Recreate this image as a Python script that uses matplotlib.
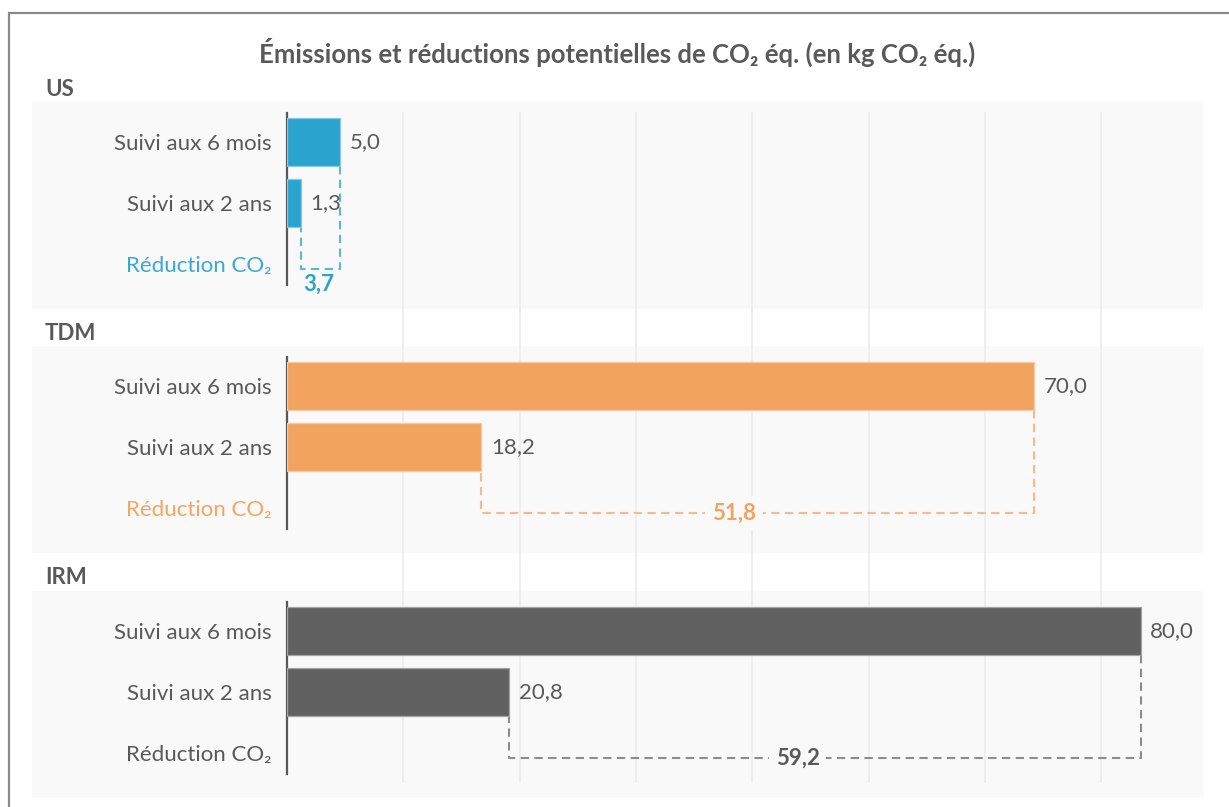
import matplotlib.pyplot as plt
from matplotlib.patches import Rectangle

plt.rcParams['font.family'] = ['Lato', 'DejaVu Sans']

# données (kg CO2 éq.)
groups = ['US', 'TDM', 'IRM']
categories = ['Suivi aux 6 mois', 'Suivi aux 2 ans', 'Réduction CO₂']
six_months = [5.0, 70.0, 80.0]
two_years = [1.3, 18.2, 20.8]
reduction = [3.7, 51.8, 59.2]

bar_colors = ['#2aa3cf', '#f2a35d', '#616161']
edge_colors = ['#86c9e4', '#f8c9a2', '#a3a3a3']
dash_colors = ['#5ab6dc', '#f8b98c', '#8c8c8c']
reduc_colors = ['#2aa3cf', '#f2a35d', '#595959']
label_colors = ['#3aa8d6', '#f4a562', '#595959']

TEXT = '#595959'
BG = '#f9f9f9'
W, H = 1229, 807
X0, X1 = 287, 1203          # zero line and right edge of the panels (px)
PX_PER_UNIT = 10.67
XMAX = (X1 - X0) / PX_PER_UNIT
panel_tops = [113, 357, 602]
PANEL_H = 172
ROW = 61.0
FS = 16


def fx(px):
    return px / W


def fy(py):
    return 1 - py / H


def fmt(v):
    return f'{v:.1f}'.replace('.', ',')


fig = plt.figure(figsize=(W / 100, H / 100), dpi=100)
fig.patch.set_facecolor('white')

# frame around the chart
fig.patches.append(Rectangle((fx(9), fy(H + 20)), 2, fy(13) - fy(H + 20),
                             transform=fig.transFigure, fill=False,
                             edgecolor='#8a8a8a', lw=1.6, zorder=5))

fig.text(fx(617), fy(52),
         'Émissions et réductions potentielles de CO₂ éq. (en kg CO₂ éq.)',
         ha='center', va='center', fontsize=18.5, fontweight='bold', color=TEXT)

# grey panel backgrounds
for top in panel_tops:
    fig.patches.append(Rectangle((fx(32), fy(top + 196)), fx(X1) - fx(32), 207 / H,
                                 transform=fig.transFigure, facecolor=BG,
                                 edgecolor='none', zorder=-2))

# vertical gridlines running through all three panels
grid_ax = fig.add_axes([fx(X0), fy(783), fx(X1) - fx(X0), (783 - 112) / H], zorder=-1)
grid_ax.set_xlim(0, XMAX)
grid_ax.set_ylim(0, 1)
grid_ax.axis('off')
for gx in [10.9 * k for k in range(1, 8)]:
    grid_ax.axvline(gx, color='#eeeeee', lw=1.4)

y_top = -29 / ROW
y_bot = y_top + PANEL_H / ROW
bar_h = 0.79
y_bracket = 2.08

for i, group in enumerate(groups):
    top = panel_tops[i]
    ax = fig.add_axes([fx(X0), fy(top + PANEL_H), fx(X1) - fx(X0), PANEL_H / H], zorder=1)
    ax.set_facecolor('none')
    ax.set_xlim(0, XMAX)
    ax.set_ylim(y_bot, y_top)

    v6, v2 = six_months[i], two_years[i]
    ax.barh([0, 1], [v6, v2], height=bar_h, color=bar_colors[i],
            edgecolor=edge_colors[i], linewidth=0.9, zorder=3)

    for y, v in zip([0, 1], [v6, v2]):
        ax.annotate(fmt(v), (v, y), xytext=(7, 0), textcoords='offset points',
                    ha='left', va='center', fontsize=FS, color=TEXT)

    # dashed bracket from the 6-month bar to the 2-year bar
    ax.plot([v6, v6, v2, v2], [bar_h / 2, y_bracket, y_bracket, 1 + bar_h / 2],
            color=dash_colors[i], lw=1.5, ls=(0, (4, 2.6)), zorder=2)

    # label sits a little left of the bracket centre
    lx = 0.95 * (v6 + v2) / 2
    if v6 - v2 > 10:
        ax.text(lx, y_bracket, fmt(reduction[i]), ha='center', va='center',
                fontsize=FS, fontweight='bold', color=reduc_colors[i], zorder=4,
                bbox=dict(boxstyle='square,pad=0.3', facecolor=BG, edgecolor='none'))
    else:
        ax.text(lx, y_bracket + 0.08, fmt(reduction[i]), ha='center', va='top',
                fontsize=FS, fontweight='bold', color=reduc_colors[i], zorder=4)

    ax.set_yticks([0, 1, 2])
    ax.set_yticklabels(categories, fontsize=FS, color=TEXT)
    ax.get_yticklabels()[2].set_color(label_colors[i])
    ax.tick_params(axis='y', length=0, pad=11)
    ax.set_xticks([])
    for side in ['top', 'right', 'bottom']:
        ax.spines[side].set_visible(False)
    ax.spines['left'].set_color('#595959')
    ax.spines['left'].set_linewidth(1.6)

    fig.text(fx(45), fy(top - 24), group, ha='left', va='center',
             fontsize=FS, fontweight='bold', color=TEXT)

fig.savefig('out.png', dpi=100)
